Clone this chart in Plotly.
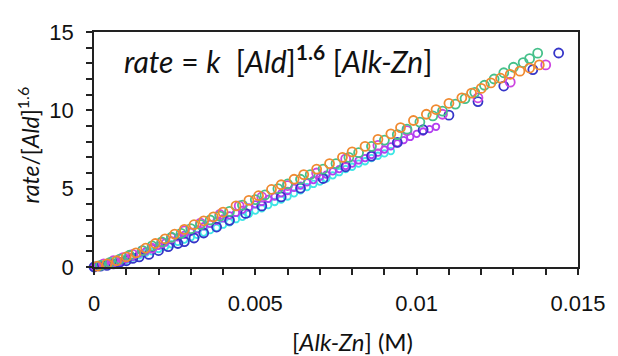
import plotly.graph_objects as go

# ---- data (x in M, y = rate/[Ald]^1.6) ----
cyan_x = [0.0000, 0.0001, 0.0002, 0.0003, 0.0004, 0.0005, 0.0006, 0.0008, 0.0010, 0.0012,
          0.0014, 0.0016, 0.0018, 0.0020, 0.0022, 0.0024, 0.0026, 0.0028, 0.0030, 0.0032,
          0.0034, 0.0036, 0.0038, 0.0040, 0.0042, 0.0044, 0.0046, 0.0048, 0.0050, 0.0052,
          0.0054, 0.0056, 0.0058, 0.0060, 0.0062, 0.0064, 0.0066, 0.0068, 0.0070, 0.0072,
          0.0074, 0.0076, 0.0078, 0.0080, 0.0082, 0.0084, 0.0086, 0.0088, 0.0090, 0.0092]
cyan_y = [0.05, 0.10, 0.10, 0.15, 0.20, 0.20, 0.25, 0.35, 0.45, 0.60,
          0.75, 0.90, 1.00, 1.15, 1.30, 1.45, 1.60, 1.75, 1.90, 2.05,
          2.20, 2.35, 2.50, 2.70, 2.85, 3.05, 3.20, 3.40, 3.60, 3.75,
          3.95, 4.15, 4.30, 4.50, 4.70, 4.90, 5.10, 5.30, 5.45, 5.65,
          5.85, 6.05, 6.25, 6.40, 6.60, 6.75, 6.95, 7.10, 7.25, 7.40]

violet_x = [0.0000, 0.0001, 0.0002, 0.0003, 0.0004, 0.0005, 0.0006, 0.0007, 0.0008, 0.0009,
            0.0010, 0.0012, 0.0014, 0.0016, 0.0018, 0.0020, 0.0022, 0.0024, 0.0026, 0.0028,
            0.0030, 0.0032, 0.0034, 0.0036, 0.0038, 0.0040, 0.0042, 0.0044, 0.0046, 0.0048,
            0.0050, 0.0052, 0.0054, 0.0056, 0.0058, 0.0060, 0.0062, 0.0064, 0.0066, 0.0068,
            0.0070, 0.0072, 0.0074, 0.0076, 0.0078, 0.0080, 0.0082, 0.0084, 0.0086, 0.0088,
            0.0090, 0.0092, 0.0094, 0.0096, 0.0098, 0.0100, 0.0102, 0.0104, 0.0106]
violet_y = [0.00, 0.05, 0.05, 0.10, 0.15, 0.15, 0.20, 0.25, 0.30, 0.40,
            0.50, 0.65, 0.85, 1.00, 1.20, 1.35, 1.55, 1.70, 1.90, 2.05,
            2.25, 2.40, 2.60, 2.75, 2.95, 3.10, 3.30, 3.45, 3.65, 3.80,
            4.00, 4.15, 4.35, 4.50, 4.70, 4.85, 5.05, 5.20, 5.40, 5.55,
            5.75, 5.90, 6.10, 6.25, 6.45, 6.60, 6.80, 6.95, 7.15, 7.30,
            7.50, 7.70, 7.90, 8.10, 8.30, 8.50, 8.65, 8.80, 8.95]

blue_x = [0.0000, 0.0002, 0.0004, 0.0006, 0.0008, 0.0010, 0.0012, 0.0014, 0.0017, 0.0020,
          0.0023, 0.0026, 0.0028, 0.0031, 0.0034, 0.0038, 0.0042, 0.0047, 0.0052, 0.0058,
          0.0064, 0.0071, 0.0078, 0.0086, 0.0094, 0.0102, 0.0110, 0.0119, 0.0127, 0.0136,
          0.0144]
blue_y = [0.00, 0.05, 0.10, 0.20, 0.30, 0.40, 0.55, 0.65, 0.80, 1.05,
          1.30, 1.50, 1.62, 1.85, 2.17, 2.55, 2.98, 3.42, 3.90, 4.47,
          5.03, 5.65, 6.40, 7.08, 7.95, 8.76, 9.69, 10.56, 11.55, 12.60,
          13.66]

magenta_x = [0.0003, 0.0006, 0.0009, 0.0012, 0.0015, 0.0018, 0.0021, 0.0024, 0.0028, 0.0033,
             0.0039, 0.0045, 0.0052, 0.0060, 0.0069, 0.0078, 0.0088, 0.0097, 0.0108, 0.0119,
             0.0129, 0.0140]
magenta_y = [0.20, 0.40, 0.60, 0.80, 1.05, 1.20, 1.55, 1.86, 2.30, 2.80,
             3.35, 3.90, 4.47, 5.20, 6.00, 6.90, 7.76, 8.70, 9.75, 10.80,
             11.80, 12.90]

green_x = [0.0002, 0.0005, 0.0008, 0.0011, 0.0015, 0.0018, 0.0021, 0.0024, 0.0027, 0.0030,
           0.0033, 0.0036, 0.0039, 0.0042, 0.0046, 0.0050, 0.0053, 0.0057, 0.0060, 0.0064,
           0.0067, 0.0071, 0.0075, 0.0079, 0.0082, 0.0086, 0.0090, 0.0094, 0.0097, 0.0101,
           0.0105, 0.0108, 0.0112, 0.0115, 0.0118, 0.0121, 0.0124, 0.0127, 0.0130, 0.0133,
           0.0135, 0.01375]
green_y = [0.10, 0.30, 0.50, 0.75, 1.05, 1.35, 1.60, 1.90, 2.15, 2.45,
           2.70, 3.00, 3.25, 3.55, 3.95, 4.30, 4.60, 5.00, 5.30, 5.60,
           5.90, 6.25, 6.60, 7.00, 7.30, 7.70, 8.10, 8.45, 8.80, 9.25,
           9.65, 9.95, 10.40, 10.75, 11.15, 11.60, 12.00, 12.40, 12.75, 13.05,
           13.30, 13.65]

orange_x = [0.0001, 0.0004, 0.0007, 0.0010, 0.0013, 0.0016, 0.0019, 0.0022, 0.0025, 0.0028,
            0.0031, 0.0034, 0.0037, 0.0040, 0.0044, 0.0048, 0.0051, 0.0055, 0.0058, 0.0062,
            0.0065, 0.0069, 0.0073, 0.0077, 0.0080, 0.0084, 0.0088, 0.0092, 0.0095, 0.0099,
            0.0103, 0.0106, 0.0110, 0.0114, 0.0117, 0.0120, 0.0123, 0.0126, 0.0129, 0.0132,
            0.0135, 0.0138]
orange_y = [0.05, 0.20, 0.40, 0.65, 0.90, 1.20, 1.50, 1.80, 2.10, 2.40,
            2.70, 2.95, 3.20, 3.50, 3.90, 4.25, 4.55, 4.95, 5.25, 5.60,
            5.90, 6.25, 6.60, 7.00, 7.35, 7.70, 8.15, 8.50, 8.90, 9.35,
            9.75, 10.05, 10.45, 10.80, 11.10, 11.40, 11.75, 12.05, 12.30, 12.50,
            12.70, 12.90]

series = [
    (cyan_x, cyan_y, "#3FE6E6", 6.5),
    (violet_x, violet_y, "#B23EF0", 6.5),
    (blue_x, blue_y, "#3535C8", 9),
    (magenta_x, magenta_y, "#CC44E0", 9),
    (green_x, green_y, "#45C08A", 9),
    (orange_x, orange_y, "#F08A30", 9),
]

fig = go.Figure()
for xs, ys, col, sz in series:
    fig.add_trace(go.Scatter(
        x=xs, y=ys, mode="markers", cliponaxis=False, showlegend=False,
        marker=dict(symbol="circle-open", size=sz, color=col, line=dict(width=1.8, color=col)),
    ))

tickfont = dict(family="Liberation Sans, Arial", size=22, color="#111")
fig.update_xaxes(
    range=[0, 0.015], tickvals=[0, 0.005, 0.01, 0.015], ticktext=["0", "0.005", "0.01", "0.015"],
    ticks="outside", ticklen=6, tickwidth=1.5, tickcolor="#222",
    minor=dict(dtick=0.001, ticks="outside", ticklen=6, tickwidth=1.5, tickcolor="#222"),
    showline=True, linecolor="#222", linewidth=1.8, mirror=True,
    showgrid=False, zeroline=False, tickfont=tickfont, ticklabelstandoff=10,
)
fig.update_yaxes(
    range=[0, 15], tickvals=[0, 5, 10, 15], ticks="outside", ticklen=6, tickwidth=1.5, tickcolor="#222",
    minor=dict(dtick=1, ticks="outside", ticklen=6, tickwidth=1.5, tickcolor="#222"),
    showline=True, linecolor="#222", linewidth=1.8, mirror=True,
    showgrid=False, zeroline=False, tickfont=tickfont, ticklabelstandoff=8,
)

labfont = dict(family="Lato, Open Sans, sans-serif", color="#111")
fig.add_annotation(
    xref="paper", yref="paper", x=0.057, y=0.883, xanchor="left", yanchor="middle",
    text="<i>rate</i> = <i>k</i>  [<i>Ald</i>]<sup><b>1.6</b></sup> [<i>Alk-Zn</i>]",
    showarrow=False, font=dict(size=30, **labfont),
)
fig.add_annotation(
    xref="paper", yref="paper", x=0.535, y=-0.315, xanchor="center", yanchor="middle",
    text="[<i>Alk-Zn</i>] (M)", showarrow=False, font=dict(size=24, **labfont),
)
fig.add_annotation(
    xref="paper", yref="paper", x=-0.135, y=0.52, xanchor="center", yanchor="middle",
    text="<i>rate</i>/[<i>Ald</i>]<sup>1.6</sup>", textangle=-90,
    showarrow=False, font=dict(size=23, **labfont),
)

fig.update_layout(
    width=610, height=348, margin=dict(l=86, r=32, t=18, b=89),
    paper_bgcolor="white", plot_bgcolor="white",
)
fig.write_html("out.html")
